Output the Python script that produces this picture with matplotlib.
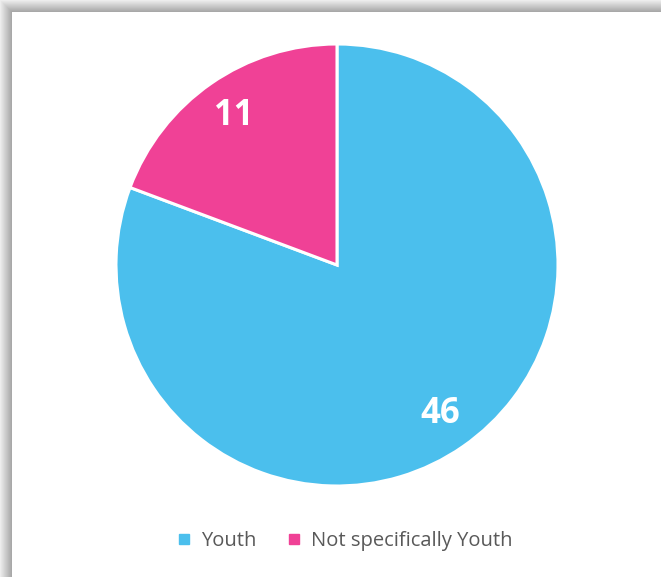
import numpy as np
import matplotlib.pyplot as plt
from matplotlib.lines import Line2D

labels = ['Youth', 'Not specifically Youth']
counts = [46, 11]
colors = ['#4BBFED', '#F04196']

W, H = 661, 577
fig = plt.figure(figsize=(W / 100, H / 100), dpi=100)

# drop shadow along the top and left edges of the card
bg = fig.add_axes([0, 0, 1, 1])
img = np.ones((H, W))
band = 12
ramp = np.linspace(0.93, 0.66, band)
for i in range(band):
    img[i, i:] = np.minimum(img[i, i:], ramp[i])
    img[i:, i] = np.minimum(img[i:, i], ramp[i])
bg.imshow(img, cmap='gray', vmin=0, vmax=1, aspect='auto', interpolation='bilinear')
bg.axis('off')

# pie, centred at (337, 265) px with radius 221 px
cx, cy, r = 337, 265, 221
ax = fig.add_axes([(cx - r) / W, (H - cy - r) / H, 2 * r / W, 2 * r / H])
wedges, texts = ax.pie(counts, colors=colors, startangle=90, counterclock=False,
                       wedgeprops=dict(edgecolor='white', linewidth=2.2))
for w, n in zip(wedges, counts):
    ang = np.deg2rad((w.theta1 + w.theta2) / 2)
    ax.text(0.82 * np.cos(ang), 0.82 * np.sin(ang), str(n), ha='center', va='center',
            color='white', fontsize=25, fontweight='bold', family='Open Sans')
ax.set_xlim(-1, 1)
ax.set_ylim(-1, 1)
ax.axis('off')

handles = [Line2D([], [], marker='s', linestyle='none', markersize=6.5,
                  markerfacecolor=c, markeredgecolor=c) for c in colors]
fig.legend(handles, labels, loc='center', bbox_to_anchor=(345 / W, 1 - 541 / H),
           ncol=2, frameon=False, handlelength=0.7, handletextpad=0.5,
           columnspacing=1.5, prop=dict(family='Open Sans', size=14.5),
           labelcolor='#595959')

fig.savefig('out.png', dpi=100)
